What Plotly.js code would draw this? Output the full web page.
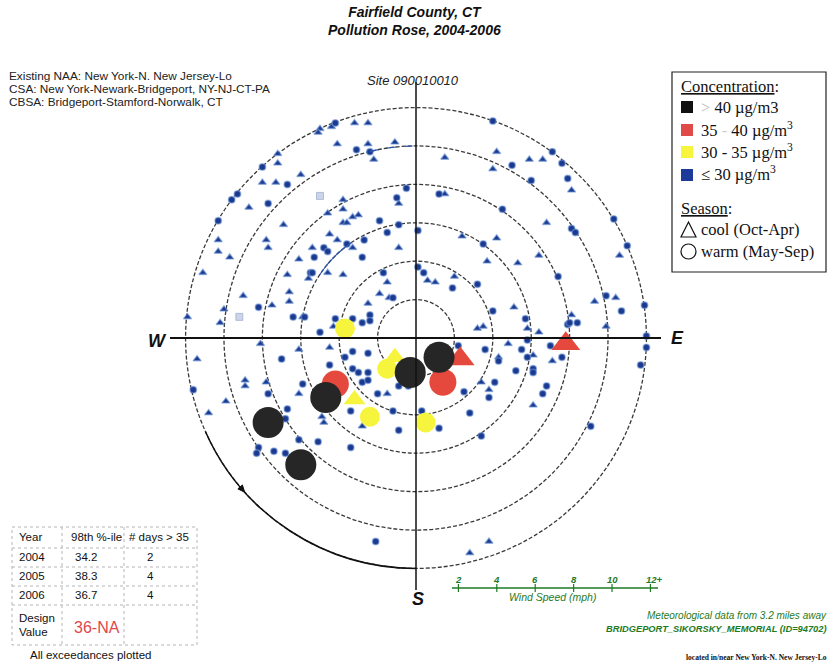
<!DOCTYPE html>
<html><head><meta charset="utf-8">
<script src="https://cdn.plot.ly/plotly-3.0.1.min.js"></script>
<style>html,body{margin:0;padding:0;background:#fff}#chart{width:830px;height:663px}</style>
</head><body><div id="chart"></div>
<script>
// ---------------- DATA (wind vector components in mph: [east, north]) ----------------
const warmLow = [ // <=30 ug/m3, warm season (circles)
[-2.8,11.7],[-4.2,11.2],[-2.4,9.7],[-3.1,9.8],[-6.9,9.9],[-8.0,8.9],[-6.7,8.0],[-9.3,7.8],[-9.3,7.5],[-9.6,7.2],
[-7.7,7.0],[-10.3,6.1],[-10.6,5.8],[-8.2,1.6],[-6.4,1.1],[-5.5,3.4],[-5.4,3.4],[-5.3,4.2],[-4.8,4.7],[-4.6,4.5],
[-3.6,4.9],[-2.8,4.2],[-2.7,5.1],[-1.9,6.1],[-1.5,5.5],[-0.9,5.9],[-1.0,7.3],[-0.5,7.8],[-1.7,3.4],[-2.4,1.2],
[-2.4,0.9],[-2.8,0.8],[-3.3,1.0],[-4.2,1.0],[-5.0,0.3],[-5.8,1.1],[-1.2,2.1],
[4.0,11.3],[5.7,10.7],[7.1,9.7],[7.6,9.1],[8.4,8.7],[9.2,7.9],[9.7,7.2],[10.1,6.7],[10.3,6.2],[11.0,5.1],
[11.0,4.8],[11.4,4.0],[11.9,1.7],[12.0,0.1],[7.9,8.3],[5.0,9.0],[6.0,8.2],[1.2,7.5],[4.5,6.7],[8.1,5.7],
[8.3,5.5],[0.1,5.6],[3.5,4.9],[7.4,3.2],[9.9,2.2],[10.7,1.4],[0.1,3.7],[0.4,3.4],[1.9,2.6],[3.2,2.8],
[4.0,1.4],[5.7,1.0],[7.9,0.7],[8.4,0.8],[8.0,0.8],
[-11.6,-2.7],[-7.7,-2.9],[-7.0,-1.1],[-5.9,-2.4],[-6.7,-3.7],[-6.8,-4.2],[-4.5,-1.4],[-6.1,-5.3],[-5.1,-5.4],[-3.4,-5.7],
[-3.4,-3.8],[-8.2,-5.7],[-8.3,-6.0],[-7.4,-5.9],[-6.8,-6.0],[-2.1,-10.6],[-0.9,-4.8],[-3.7,-1.0],[-3.3,-0.7],[-2.5,-0.8],
[-3.3,-1.6],[-3.0,-1.8],[-2.5,-1.8],[-2.8,-2.3],[-2.5,-2.2],[-2.0,-2.9],[-1.2,-3.8],[-4.1,-3.2],[-0.9,-2.5],[-0.4,-2.5],
[3.6,-0.6],[4.3,-1.2],[5.5,-0.6],[5.8,-0.1],[5.8,-1.0],[6.1,-1.6],[6.1,-1.8],[5.2,-1.7],[7.0,-0.4],[7.6,-1.0],
[4.1,-2.3],[3.8,-3.1],[2.5,-2.8],[6.8,-2.5],[6.6,-2.9],[2.8,-3.9],[1.2,-4.7],[3.4,-5.1],[9.1,-4.6],[12.0,-0.5],
[12.0,-0.9],[11.7,-1.4],[11.9,-2.0],[0.3,-3.8],[2.2,-0.4]
];
const coolLow = [ // <=30 ug/m3, cool season (triangles)
[-3.2,11.2],[-2.5,11.2],[-4.0,11.4],[-4.4,11.0],[-5.0,10.9],[-5.1,10.7],[-4.1,10.1],[-2.5,10.1],[-2.2,9.3],[-1.1,10.2],
[-7.2,9.6],[-7.2,9.1],[-8.0,8.1],[-7.3,8.1],[-6.0,8.5],[-9.9,6.9],[-8.7,6.8],[-10.3,5.1],[-11.0,4.9],[-10.3,4.5],
[-9.7,4.2],[-11.1,3.4],[-11.9,1.1],[-10.0,1.5],[-10.2,0.8],[-7.5,1.7],[-9.0,2.2],[-7.8,5.1],[-7.7,4.7],[-6.9,5.9],
[-6.7,3.3],[-6.6,2.4],[-6.6,1.9],[-6.1,4.1],[-5.6,3.1],[-5.4,4.7],[-4.5,5.4],[-4.1,5.1],[-3.8,7.2],[-3.8,6.7],
[-4.6,6.5],[-3.8,6.0],[-3.6,6.0],[-3.3,6.3],[-3.0,6.4],[-3.3,4.7],[-4.6,3.4],[-3.8,3.3],[-0.9,4.7],[-0.9,7.0],
[-1.5,2.9],[-1.9,2.3],[-2.5,1.8],[-1.4,2.1],[-4.3,0.6],[-5.9,1.1],
[12.0,0.9],[10.6,4.3],[8.1,7.7],[5.9,9.3],[6.6,9.3],[4.2,9.7],[1.5,9.4],[4.0,8.8],[1.5,7.5],[6.8,6.0],
[2.4,5.3],[4.2,5.2],[3.7,4.0],[5.3,3.9],[6.4,4.3],[9.3,1.9],[10.4,2.1],[9.9,0.6],[0.6,3.0],[1.0,2.9],
[2.0,3.2],[5.1,1.6],[3.2,0.5],[3.5,0.6],[5.8,0.5],[6.4,0.3],[8.1,1.2],
[-11.4,-1.1],[-10.8,-3.9],[-9.9,-3.3],[-8.9,-2.2],[-8.9,-2.5],[-8.1,-0.3],[-7.8,-2.3],[-6.1,-0.6],[-6.1,-2.9],[-4.5,-0.5],
[-4.9,-4.1],[-4.8,-4.4],[-2.8,-4.6],[-1.5,-2.9],
[4.8,-0.3],[4.3,-1.0],[6.1,-0.9],[7.1,-1.2],[3.4,-2.3],[3.8,-2.7],[6.1,-3.5],[3.8,-10.6],[2.8,-11.2]
];
const fadedPts   = [[-5.0,7.4],[-9.2,1.1]];
const warmYellow = [[-3.7,0.5],[-1.5,-1.6],[-2.4,-4.1],[0.5,-4.4]];   // 30-35
const coolYellow = [[-1.1,-1.0],[-3.2,-3.2]];
const warmRed    = [[-4.2,-2.4],[1.4,-2.3]];                          // 35-40
const coolRed    = [[2.3,-1.1],[7.8,-0.3]];
const warmBlack  = [[-7.7,-4.4],[-6.0,-6.6],[-4.7,-3.1],[-0.3,-1.8],[1.2,-1.0]]; // >40

const speedRings = [2,4,6,8,10,12];
const speedLabels = ['2','4','6','8','10','12+'];

const tableHeader = ['Year','98th %-ile','# days > 35'];
const tableYears = ['2004','2005','2006'];
const tablePct = ['34.2','38.3','36.7'];
const tableDays = ['2','4','4'];
const designValue = '36-NA';

// ---------------- helpers ----------------
const W=830,H=663, CX=416, CY=338, R=231, RMAX=12, RANGE=12.03;
const px = x => x/W, py = y => 1 - y/H;
function toPolar(arr){
  return {r: arr.map(p=>Math.hypot(p[0],p[1])),
          theta: arr.map(p=>(Math.atan2(p[0],p[1])*180/Math.PI+360)%360)};
}
function tr(arr, symbol, size, color, line){
  const p = toPolar(arr);
  return {type:'scatterpolar', mode:'markers', r:p.r, theta:p.theta, hoverinfo:'skip',
    marker:{symbol:symbol, size:size, color:color, line:line||{width:0}}};
}
const BLUE='#1b3a8f', HALO={color:'rgba(110,150,215,0.55)', width:1.5};
const traces = [
  tr(fadedPts,'square',7,'rgba(170,185,215,0.6)',{color:'rgba(140,160,200,0.6)',width:1}),
  tr(coolLow,'triangle-up',7,BLUE,HALO),
  tr(warmLow,'circle',6.5,BLUE,HALO),
  tr(warmYellow,'circle',20,'#f6f43c'),
  tr(coolYellow,'triangle-up',19,'#f6f43c'),
  tr(warmRed,'circle',27,'#e5483c'),
  tr(coolRed,'triangle-up',25,'#e5483c'),
  tr(warmBlack,'circle',31,'#262626')
];

// ---------------- shapes ----------------
const shapes = [];
const line = (x0,y0,x1,y1,color,width,dash)=>shapes.push({type:'line',xref:'paper',yref:'paper',
  x0:px(x0),y0:py(y0),x1:px(x1),y1:py(y1),line:{color:color,width:width,dash:dash||'solid'}});
const pxPerMph = R/RANGE;
// outer speed ring (edge of the rose)
const rOut = RMAX*pxPerMph;
shapes.push({type:'circle',xref:'paper',yref:'paper',layer:'below',x0:px(CX-rOut),x1:px(CX+rOut),y0:py(CY+rOut),y1:py(CY-rOut),
  line:{color:'#3a3a3a',width:1.3,dash:'4px,2px'}});
// cross hairs
line(170,CY,661,CY,'#111',1.8);
line(CX,82,CX,590,'#111',1.5);
// arc helper (compass degrees, radius in mph)
function arc(d1,d2,rm,color,width,dash){
  const rr=rm*pxPerMph, a1=d1*Math.PI/180, a2=d2*Math.PI/180, d=a2-a1, k=4/3*Math.tan(d/4)*rr;
  const P=a=>[CX+rr*Math.sin(a), CY-rr*Math.cos(a)];
  const T=a=>[Math.cos(a), Math.sin(a)];
  const p1=P(a1), p2=P(a2), t1=T(a1), t2=T(a2);
  const c1=[p1[0]+k*t1[0], p1[1]+k*t1[1]], c2=[p2[0]-k*t2[0], p2[1]-k*t2[1]];
  const f=p=>px(p[0]).toFixed(5)+','+py(p[1]).toFixed(5);
  shapes.push({type:'path',xref:'paper',yref:'paper',path:'M'+f(p1)+' C'+f(c1)+' '+f(c2)+' '+f(p2),line:{color:color,width:width,dash:dash||'solid'}});
}
arc(180,246,12,'#111',1.5);
arc(346,359,10,'#2a55b0',1.2,'dash');
arc(303,326,6,'#2a55b0',1.2);
// small arrowhead on the black arc
(function(){
  const a=229*Math.PI/180, rr=RMAX*pxPerMph;
  const c=[CX+rr*Math.sin(a), CY-rr*Math.cos(a)];
  const t=[Math.cos(a), Math.sin(a)], n=[-Math.sin(a), Math.cos(a)];
  const tip=[c[0]-4*t[0], c[1]-4*t[1]], b1=[c[0]+3*t[0]+3*n[0], c[1]+3*t[1]+3*n[1]], b2=[c[0]+3*t[0]-3*n[0], c[1]+3*t[1]-3*n[1]];
  const f=p=>px(p[0]).toFixed(5)+','+py(p[1]).toFixed(5);
  shapes.push({type:'path',xref:'paper',yref:'paper',path:'M'+f(tip)+' L'+f(b1)+' L'+f(b2)+' Z',fillcolor:'#111',line:{color:'#111',width:1}});
})();
// legend box
shapes.push({type:'rect',xref:'paper',yref:'paper',x0:px(672),x1:px(826),y0:py(72),y1:py(272),line:{color:'#222',width:1.2}});
const legColors=['#111111','#e04a48','#f6f43c','#1b3a9a'], legY=[107,130,152,175];
legColors.forEach((c,i)=>shapes.push({type:'rect',xref:'paper',yref:'paper',x0:px(681),x1:px(693),y0:py(legY[i]-6),y1:py(legY[i]+6),fillcolor:c,line:{width:0}}));
shapes.push({type:'path',xref:'paper',yref:'paper',path:`M${px(681)},${py(237)} L${px(696)},${py(237)} L${px(688.5)},${py(222)} Z`,line:{color:'#111',width:1.2}});
shapes.push({type:'circle',xref:'paper',yref:'paper',x0:px(681),x1:px(696),y0:py(244),y1:py(259),line:{color:'#111',width:1.2}});
// wind speed scale
const G='#1f7a25';
const scale0 = 420;
line(452,588,658,588,G,1.3);
speedRings.forEach(v=>line(scale0+v*pxPerMph,584,scale0+v*pxPerMph,592,G,1.2));
// table
const TG='#b5b5b5';
shapes.push({type:'rect',xref:'paper',yref:'paper',x0:px(12),x1:px(197),y0:py(527),y1:py(645),line:{color:TG,width:1,dash:'dot'}});
[548,567,586,605].forEach(y=>line(12,y,197,y,TG,1,'dot'));
[62,124].forEach(x=>line(x,527,x,645,TG,1,'dot'));

// ---------------- annotations ----------------
const ann=[];
const txt=(t,x,y,o)=>ann.push(Object.assign({text:t,xref:'paper',yref:'paper',x:px(x),y:py(y),showarrow:false,
  xanchor:'left',yanchor:'middle',font:{family:'Liberation Sans, Arial',size:11,color:'#111'}},o||{}));
const SANS='Liberation Sans, Arial', SERIF='Liberation Serif, Times New Roman', NARROW='Liberation Sans Narrow, Arial Narrow';
txt('<b><i>Fairfield County, CT<br>Pollution Rose, 2004-2006</i></b>',414,21,{xanchor:'center',font:{family:SANS,size:14,color:'#111'}});
txt('Existing NAA: New York-N. New Jersey-Lo',7,76,{font:{family:SANS,size:11.8,color:'#222'}});
txt('CSA: New York-Newark-Bridgeport, NY-NJ-CT-PA',7,89,{font:{family:SANS,size:11.8,color:'#222'}});
txt('CBSA: Bridgeport-Stamford-Norwalk, CT',7,102,{font:{family:SANS,size:11.8,color:'#222'}});
txt('<i>Site 090010010</i>',413,80,{xanchor:'center',font:{family:SANS,size:13,color:'#222'}});
txt('<b><i>W</i></b>',157,341,{xanchor:'center',font:{family:SANS,size:18,color:'#111'}});
txt('<b><i>E</i></b>',677,338,{xanchor:'center',font:{family:SANS,size:18,color:'#111'}});
txt('<b><i>S</i></b>',418,599,{xanchor:'center',font:{family:SANS,size:18,color:'#111'}});
// legend
const LF={family:SERIF,size:16.5,color:'#111'};
txt('<u>Concentration</u>:',679,87,{font:LF});
txt('<span style="color:#bbb">&gt;</span> 40 µg/m3',699,108,{font:LF});
txt('35 <span style="color:#ccc">-</span> 40 µg/m<sup>3</sup>',699,130,{font:LF});
txt('30 - 35 µg/m<sup>3</sup>',699,152,{font:LF});
txt('≤ 30 µg/m<sup>3</sup>',699,174,{font:LF});
txt('<u>Season</u>:',679,208,{font:LF});
txt('cool (Oct-Apr)',699,229,{font:LF});
txt('warm (May-Sep)',699,251,{font:LF});
// wind scale labels
speedRings.forEach((v,i)=>txt('<b><i>'+speedLabels[i]+'</i></b>',scale0+v*pxPerMph+(i==5?4:0),579,{xanchor:'center',font:{family:SANS,size:9.5,color:G}}));
txt('<i>Wind Speed (mph)</i>',552,597,{xanchor:'center',font:{family:SANS,size:10.5,color:G}});
txt('<i>Meteorological data from 3.2 miles away</i>',829,615,{xanchor:'right',font:{family:SANS,size:10,color:G}});
txt('<b><i>BRIDGEPORT_SIKORSKY_MEMORIAL (ID=94702)</i></b>',829,629,{xanchor:'right',font:{family:SANS,size:9.3,color:G}});
txt('<b>located in/near New York-N. New Jersey-Lo</b>',829,657,{xanchor:'right',font:{family:NARROW,size:7.5,color:'#111'}});
// table
const TF={family:SANS,size:11.5,color:'#111'};
txt(tableHeader[0],17,537,{font:TF});
txt(tableHeader[1],96,537,{xanchor:'center',font:TF});
txt(tableHeader[2],127,537,{font:TF});
const rowY=[557,576,595];
tableYears.forEach((y,i)=>{
  txt(y,17,rowY[i],{font:TF});
  txt(tablePct[i],86,rowY[i],{xanchor:'center',font:TF});
  txt(tableDays[i],150,rowY[i],{xanchor:'center',font:TF});
});
txt('Design',17,618,{font:TF});
txt('Value',17,632,{font:TF});
txt(designValue,72,627,{font:{family:SANS,size:16,color:'#e0474c'}});
txt('All exceedances plotted',90,655,{xanchor:'center',font:TF});

const layout = {
  width:W, height:H, margin:{l:0,r:0,t:0,b:0}, paper_bgcolor:'#fff', showlegend:false,
  polar:{
    domain:{x:[(CX-R)/W,(CX+R)/W], y:[1-(CY+R)/H, 1-(CY-R)/H]},
    bgcolor:'rgba(0,0,0,0)',
    radialaxis:{range:[0,RANGE], tickvals:speedRings, showticklabels:false, ticks:'', showline:false,
      gridcolor:'#3a3a3a', gridwidth:1.3, griddash:'4px,2px'},
    angularaxis:{rotation:90, direction:'clockwise', showgrid:false, showticklabels:false, ticks:'', showline:false}
  },
  shapes:shapes, annotations:ann
};
Plotly.newPlot('chart', traces, layout, {staticPlot:true});
</script></body></html>
